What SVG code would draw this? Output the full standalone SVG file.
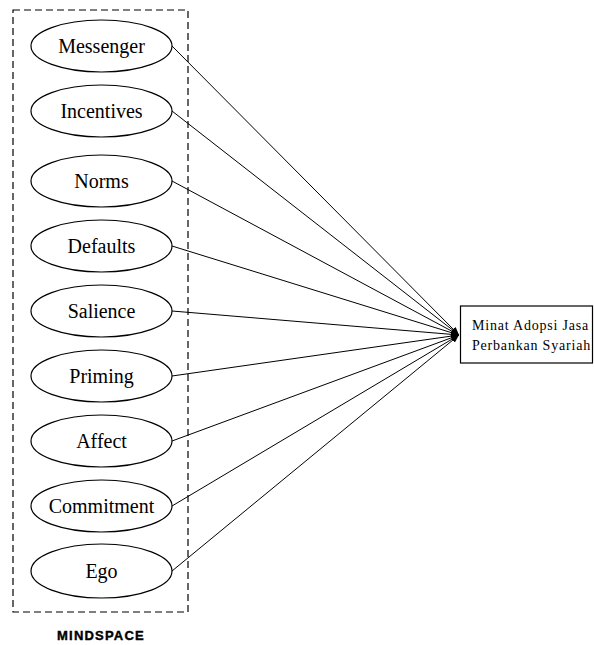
<svg xmlns="http://www.w3.org/2000/svg" width="594" height="645" viewBox="0 0 594 645">
<defs>
<style>
.el{fill:#fff;stroke:#000;stroke-width:1.2}
.lbl{font-family:"Liberation Serif","Times New Roman",serif;font-size:20px;text-anchor:middle;fill:#000}
.con{stroke:#000;stroke-width:1;fill:none;marker-end:url(#ah)}
.tg{font-family:"Liberation Serif","Times New Roman",serif;font-size:14px;letter-spacing:0.8px;fill:#000}
</style>
<marker id="ah" viewBox="0 0 10 10" refX="10" refY="5" markerWidth="8" markerHeight="8" markerUnits="userSpaceOnUse" orient="auto">
<path d="M0,1 L10,5 L0,9 Z" fill="#000"/>
</marker>
</defs>
<rect width="594" height="645" fill="#fff"/>
<g id="mindspace-box">
<rect x="13" y="10" width="175" height="602" fill="none" stroke="#000" stroke-width="1.2" stroke-dasharray="7,4"/>
<text x="101" y="640" font-family="Liberation Sans,Arial,sans-serif" font-size="13" font-weight="bold" letter-spacing="1.2" stroke="#000" stroke-width="0.4" text-anchor="middle">MINDSPACE</text>
</g>
<g id="connectors">
<line class="con" x1="172" y1="46" x2="459" y2="335"/>
<line class="con" x1="172" y1="111" x2="459" y2="335"/>
<line class="con" x1="172" y1="181" x2="459" y2="335"/>
<line class="con" x1="172" y1="246" x2="459" y2="335"/>
<line class="con" x1="172" y1="311" x2="459" y2="335"/>
<line class="con" x1="172" y1="376" x2="459" y2="335"/>
<line class="con" x1="172" y1="441" x2="459" y2="335"/>
<line class="con" x1="172" y1="506" x2="459" y2="335"/>
<line class="con" x1="172" y1="571" x2="459" y2="335"/>
</g>
<g id="messenger"><ellipse class="el" cx="101.5" cy="46" rx="70.5" ry="26"/><text class="lbl" x="101.5" y="53">Messenger</text></g>
<g id="incentives"><ellipse class="el" cx="101.5" cy="111" rx="70.5" ry="26"/><text class="lbl" x="101.5" y="118">Incentives</text></g>
<g id="norms"><ellipse class="el" cx="101.5" cy="181" rx="70.5" ry="26"/><text class="lbl" x="101.5" y="188">Norms</text></g>
<g id="defaults"><ellipse class="el" cx="101.5" cy="246" rx="70.5" ry="26"/><text class="lbl" x="101.5" y="253">Defaults</text></g>
<g id="salience"><ellipse class="el" cx="101.5" cy="311" rx="70.5" ry="26"/><text class="lbl" x="101.5" y="318">Salience</text></g>
<g id="priming"><ellipse class="el" cx="101.5" cy="376" rx="70.5" ry="26"/><text class="lbl" x="101.5" y="383">Priming</text></g>
<g id="affect"><ellipse class="el" cx="101.5" cy="441" rx="70.5" ry="26"/><text class="lbl" x="101.5" y="448">Affect</text></g>
<g id="commitment"><ellipse class="el" cx="101.5" cy="506" rx="70.5" ry="26"/><text class="lbl" x="101.5" y="513">Commitment</text></g>
<g id="ego"><ellipse class="el" cx="101.5" cy="571" rx="70.5" ry="27"/><text class="lbl" x="101.5" y="578">Ego</text></g>
<g id="minat">
<rect x="460.5" y="306" width="132" height="57" fill="#fff" stroke="#000" stroke-width="1.2"/>
<text class="tg" x="472" y="330">Minat Adopsi Jasa</text>
<text class="tg" x="472" y="350">Perbankan Syariah</text>
</g>
</svg>
